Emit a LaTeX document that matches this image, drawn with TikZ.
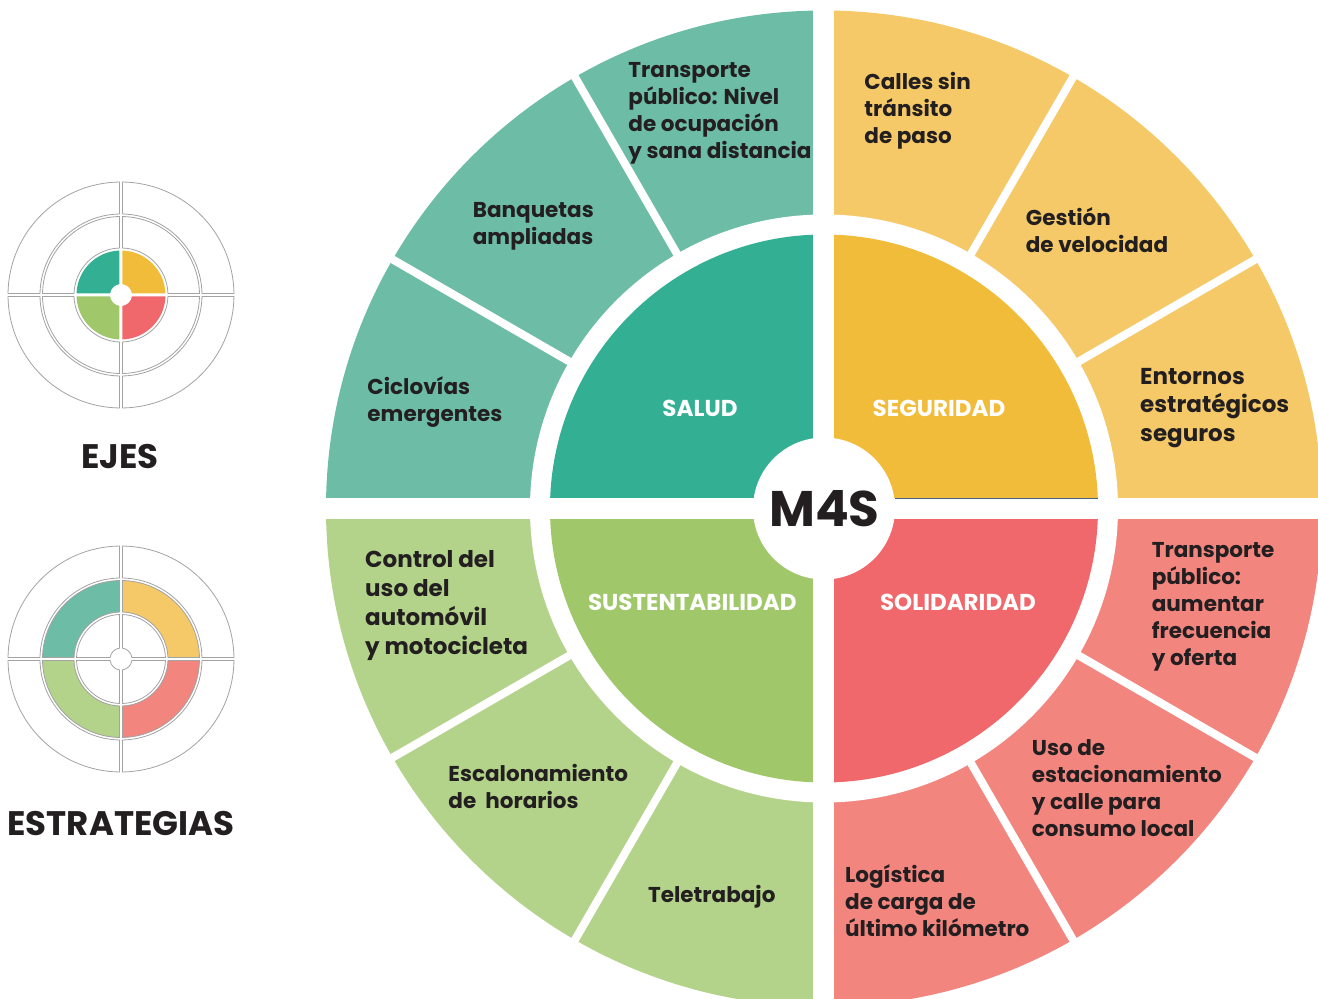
\documentclass[tikz,border=0pt]{standalone}
\usepackage{fontspec}
\setmainfont{Poppins}
\usepackage{tikz}
\usepackage{xcolor}

\definecolor{salud}{HTML}{33AF93}
\definecolor{saludout}{HTML}{6DBDA6}
\definecolor{seguridad}{HTML}{F2BC3B}
\definecolor{seguridadout}{HTML}{F5C968}
\definecolor{sustent}{HTML}{A0C86B}
\definecolor{sustentout}{HTML}{B3D28A}
\definecolor{solidar}{HTML}{F0686B}
\definecolor{solidarout}{HTML}{F3857F}
\definecolor{ink}{HTML}{231F20}
\definecolor{rim}{HTML}{A3A3A3}
\definecolor{edge}{HTML}{4A6380}

% annular sector of the small icons: start angle, inner radius, outer radius, options
\newcommand{\iconsec}[4]{%
  \filldraw[icon, #4] ({#1+asin(1.5/#3)}:#3)
    arc[start angle={#1+asin(1.5/#3)}, end angle={#1+90-asin(1.5/#3)}, radius=#3]
    -- ({#1+90-asin(1.5/#2)}:#2)
    arc[start angle={#1+90-asin(1.5/#2)}, end angle={#1+asin(1.5/#2)}, radius=#2] -- cycle;}

\begin{document}
\begin{tikzpicture}[x=1pt, y=1pt,
            strat/.style={font=\fontsize{21.5}{27}\selectfont\bfseries, text=ink, align=left, anchor=base west, inner sep=0},
            bigstrat/.style={strat, font=\fontsize{23}{28.8}\selectfont\bfseries},
            eje/.style={font=\fontsize{23}{27}\selectfont\bfseries, text=white, anchor=base, inner sep=0},
            heading/.style={font=\fontsize{34}{40}\selectfont\bfseries, text=ink, anchor=base, inner sep=0},
            cut/.style={draw=white, line width=8pt},
            icon/.style={draw=rim, line width=0.8pt}
        ]
            \useasboundingbox (-824,-490.5) rectangle (494,508.5);

            % Outer ring (strategies)
            \fill[saludout] (0,0) -- (90:498) arc[start angle=90, end angle=180, radius=498] -- cycle;
            \fill[seguridadout] (0,0) -- (0:498) arc[start angle=0, end angle=90, radius=498] -- cycle;
            \fill[sustentout] (0,0) -- (180:498) arc[start angle=180, end angle=270, radius=498] -- cycle;
            \fill[solidarout] (0,0) -- (270:498) arc[start angle=270, end angle=360, radius=498] -- cycle;
            \fill[white] (0,0) circle[radius=294];

            % Inner quadrants (axes)
            \fill[salud] (0,0) -- (90:274) arc[start angle=90, end angle=180, radius=274] -- cycle;
            \fill[seguridad] (0,0) -- (0:274) arc[start angle=0, end angle=90, radius=274] -- cycle;
            \fill[sustent] (0,0) -- (180:274) arc[start angle=180, end angle=270, radius=274] -- cycle;
            \fill[solidar] (0,0) -- (270:274) arc[start angle=270, end angle=360, radius=274] -- cycle;
            \fill[white] (0,0) circle[radius=71];

            % White separators
            \foreach \a in {30,60,120,150,210,240,300,330}
                \draw[cut] (\a:280) -- (\a:510);
            \draw[cut, line width=21pt] (-510,0) -- (510,0);
            \draw[cut, line width=21pt] (0,-510) -- (0,510);
            \draw[edge, line width=0.9pt] (71,10.5) -- (273.8,10.5);

            % Axes
            \node[font=\fontsize{50}{60}\selectfont\bfseries, text=ink, anchor=base, inner sep=0] (mfs) at (0.5,-18.2) {M4S};
            \node[eje] (saludlbl) at (-124,91.8) {SALUD};
            \node[eje] (seguridadlbl) at (115,91.8) {SEGURIDAD};
            \node[eje] (sustentlbl) at (-131.7,-101.5) {SUSTENTABILIDAD};
            \node[eje] (solidarlbl) at (134,-101.5) {SOLIDARIDAD};

            % Strategies (placed at the baseline of their last line)
            \node[strat] (transporte) at (-195.7,349.5) {Transporte\\público: Nivel\\de ocupación\\y sana distancia};
            \node[strat] (banquetas) at (-351.3,264.2) {Banquetas\\ampliadas};
            \node[strat] (ciclovias) at (-456.7,86.8) {Ciclovías\\emergentes};
            \node[strat] (calles) at (40.3,365.2) {Calles sin\\tránsito\\de paso};
            \node[strat] (gestion) at (201.7,256.2) {Gestión\\de velocidad};
            \node[bigstrat] (entornos) at (316,66.8) {Entornos\\estratégicos\\seguros};
            \node[bigstrat] (control) at (-459,-145.8) {Control del\\uso del\\automóvil\\y motocicleta};
            \node[strat] (escalonamiento) at (-375.7,-299.8) {Escalonamiento\\de~ horarios};
            \node[strat] (teletrabajo) at (-176,-393.8) {Teletrabajo};
            \node[strat] (frecuencia) at (327.7,-157) {Transporte\\público:\\aumentar\\frecuencia\\y oferta};
            \node[strat] (estacionamiento) at (207.7,-327.5) {Uso de\\estacionamiento\\y calle para\\consumo local};
            \node[strat] (logistica) at (21,-428.2) {Logística\\de carga de\\último kilómetro};

            % Legend icon: axes
            \begin{scope}[shift={(-703,213.5)}]
                \foreach \a in {0,90,180,270} {
                    \iconsec{\a}{81}{113}{fill=white}
                    \iconsec{\a}{47}{78.5}{fill=white}
                }
                \iconsec{90}{11}{44.5}{fill=salud, draw=none}
                \iconsec{0}{11}{44.5}{fill=seguridad, draw=none}
                \iconsec{180}{11}{44.5}{fill=sustent, draw=none}
                \iconsec{270}{11}{44.5}{fill=solidar, draw=none}
            \end{scope}
            \node[heading] (ejes) at (-704,39.5) {EJES};

            % Legend icon: strategies
            \begin{scope}[shift={(-703,-150.5)}]
                \foreach \a in {0,90,180,270} {
                    \iconsec{\a}{81}{113}{fill=white}
                    \iconsec{\a}{11}{44.5}{fill=white}
                }
                \iconsec{90}{47}{78.5}{fill=saludout}
                \iconsec{0}{47}{78.5}{fill=seguridadout}
                \iconsec{180}{47}{78.5}{fill=sustentout}
                \iconsec{270}{47}{78.5}{fill=solidarout}
            \end{scope}
            \node[heading] (estrategias) at (-703,-326.5) {ESTRATEGIAS};

        \end{tikzpicture}
\end{document}
